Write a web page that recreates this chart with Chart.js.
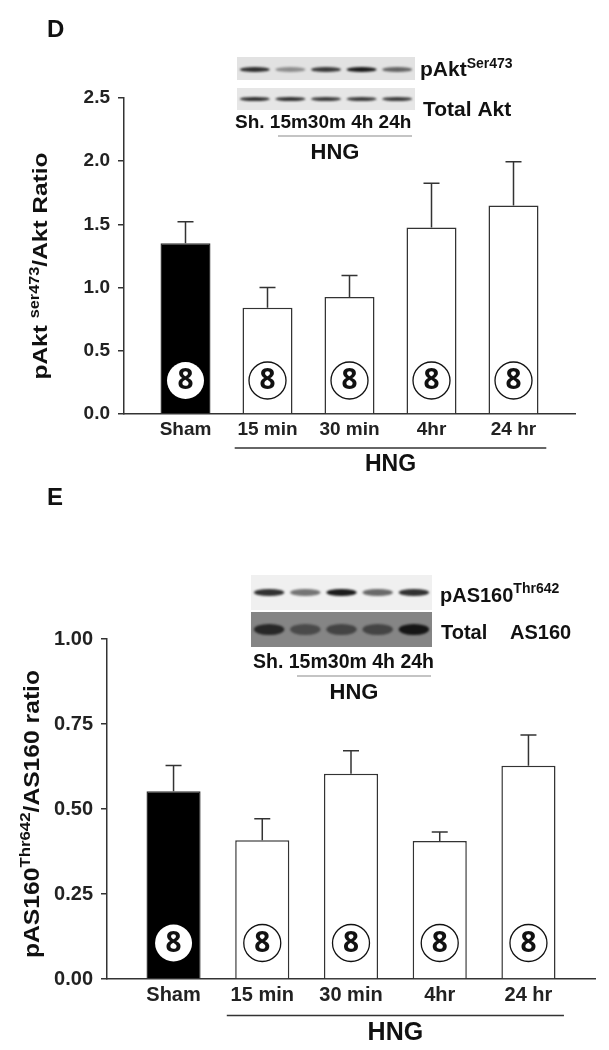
<!DOCTYPE html>
<html>
<head>
<meta charset="utf-8">
<script src="https://cdn.jsdelivr.net/npm/chart.js@4.4.0/dist/chart.umd.min.js"></script>
<style>
  html, body { margin: 0; padding: 0; background: #fff; }
  #wrapD { position: absolute; left: 0; top: 0; width: 609px; height: 480px; }
  #wrapE { position: absolute; left: 0; top: 480px; width: 609px; height: 570px; }
</style>
</head>
<body>
<div id="wrapD"><canvas id="chartD"></canvas></div>
<div id="wrapE"><canvas id="chartE"></canvas></div>
<script>
var groups = ['Sham', '15 min', '30 min', '4hr', '24 hr'];
var nPerGroup = [8, 8, 8, 8, 8];
var barColors = ['#000', '#fff', '#fff', '#fff', '#fff'];

// panel D
var aktRatio = [1.35, 0.84, 0.925, 1.475, 1.65];
var aktSem = [0.17, 0.16, 0.17, 0.35, 0.345];
var aktTicks = [0, 0.5, 1.0, 1.5, 2.0, 2.5];

// panel E
var as160Ratio = [0.552, 0.408, 0.604, 0.406, 0.627];
var as160Sem = [0.076, 0.063, 0.067, 0.026, 0.091];
var as160Ticks = [0, 0.25, 0.5, 0.75, 1.0];

// blot insets (lane labels + rough band darkness)
var blotLanes = 'Sh. 15m30m 4h 24h';
var pAktBands = [0.85, 0.4, 0.8, 0.95, 0.6];
var totAktBands = [0.85, 0.85, 0.8, 0.8, 0.8];
var pAS160Bands = [0.85, 0.55, 0.95, 0.6, 0.85];
var totAS160Bands = [0.8, 0.5, 0.55, 0.55, 0.95];

var FAM = '"Liberation Sans", Arial, sans-serif';

function txt(ctx, s, x, y, size, align, base, color) {
  ctx.font = 'bold ' + size + 'px ' + FAM;
  ctx.textAlign = align || 'left';
  ctx.textBaseline = base || 'alphabetic';
  ctx.fillStyle = color || '#111';
  ctx.fillText(s, x, y);
  return ctx.measureText(s).width;
}

// rotated axis title with a superscript part, stretched to a given length
function rotTitle(ctx, parts, bx, cy, len) {
  ctx.save();
  ctx.translate(bx, cy);
  ctx.rotate(-Math.PI / 2);
  var w = 0;
  parts.forEach(function (p) {
    ctx.font = 'bold ' + p.size + 'px ' + FAM;
    p.w = ctx.measureText(p.t).width;
    w += p.w;
  });
  ctx.scale(len / w, 1);
  var x = -w / 2;
  ctx.fillStyle = '#111';
  ctx.textAlign = 'left';
  ctx.textBaseline = 'alphabetic';
  parts.forEach(function (p) {
    ctx.font = 'bold ' + p.size + 'px ' + FAM;
    ctx.fillText(p.t, x, -p.rise);
    x += p.w;
  });
  ctx.restore();
}

function blot(ctx, x, y, w, h, bg, bands, bh, dy) {
  ctx.fillStyle = bg;
  ctx.fillRect(x, y, w, h);
  var lw = w / bands.length;
  ctx.save();
  ctx.filter = 'blur(1.2px)';
  bands.forEach(function (b, i) {
    ctx.fillStyle = 'rgba(15,15,15,' + b + ')';
    ctx.beginPath();
    ctx.ellipse(x + (i + 0.5) * lw, y + h / 2 + dy, lw * 0.42, bh / 2, 0, 0, Math.PI * 2);
    ctx.fill();
  });
  ctx.restore();
}

function decorPlugin(cfg) {
  return {
    id: 'decor',
    afterDatasetsDraw: function (chart) {
      var ctx = chart.ctx, xs = chart.scales.x, ys = chart.scales.y, area = chart.chartArea;
      ctx.save();
      // error bars (upper only)
      ctx.strokeStyle = '#333';
      ctx.lineWidth = 1.5;
      cfg.values.forEach(function (v, i) {
        var x = xs.getPixelForValue(i);
        var y0 = ys.getPixelForValue(v);
        var y1 = ys.getPixelForValue(v + cfg.sem[i]);
        ctx.beginPath();
        ctx.moveTo(x, y0); ctx.lineTo(x, y1);
        ctx.moveTo(x - 8, y1); ctx.lineTo(x + 8, y1);
        ctx.stroke();
      });
      // n circles
      nPerGroup.forEach(function (n, i) {
        var x = xs.getPixelForValue(i), y = area.bottom - cfg.circleUp;
        ctx.beginPath();
        ctx.arc(x, y, 18.5, 0, Math.PI * 2);
        ctx.fillStyle = '#fff';
        ctx.fill();
        if (i > 0) { ctx.strokeStyle = '#111'; ctx.lineWidth = 1.3; ctx.stroke(); }
        ctx.font = 'bold 28px "Open Sans", sans-serif';
        ctx.textAlign = 'center';
        ctx.textBaseline = 'middle';
        ctx.fillStyle = '#111';
        ctx.fillText(String(n), x, y + 1);
      });
      // HNG bracket under x axis
      ctx.strokeStyle = '#333';
      ctx.lineWidth = 1.5;
      ctx.beginPath();
      ctx.moveTo(xs.getPixelForValue(0.6), area.bottom + cfg.brDown);
      ctx.lineTo(xs.getPixelForValue(4.4), area.bottom + cfg.brDown);
      ctx.stroke();
      txt(ctx, 'HNG', xs.getPixelForValue(2.5), area.bottom + cfg.hngDown, cfg.hngSize, 'center', 'middle');
      ctx.restore();
    },
    afterDraw: function (chart) {
      var ctx = chart.ctx;
      ctx.save();
      txt(ctx, cfg.letter, 47, cfg.letterY, 24);
      rotTitle(ctx, cfg.title, cfg.titleX, cfg.titleY, cfg.titleLen);
      cfg.inset(ctx);
      ctx.restore();
    }
  };
}

function makeChart(id, values, sem, ticks, dec, pad, yWidth, fontSize, cfg) {
  cfg.values = values;
  cfg.sem = sem;
  return new Chart(document.getElementById(id), {
    type: 'bar',
    data: {
      datasets: [{
        data: values.map(function (v, i) { return { x: i, y: v }; }),
        backgroundColor: barColors,
        borderColor: '#333',
        borderWidth: 1.5,
        barPercentage: 0.61,
        categoryPercentage: 1
      }]
    },
    options: {
      responsive: true,
      maintainAspectRatio: false,
      animation: false,
      layout: { padding: pad },
      plugins: { legend: { display: false }, tooltip: { enabled: false } },
      scales: {
        x: {
          type: 'linear',
          offset: false,
          min: -0.75,
          max: 4.75,
          afterBuildTicks: function (s) { s.ticks = groups.map(function (g, i) { return { value: i }; }); },
          afterFit: function (s) { s.height = 40; },
          grid: { display: false, drawTicks: false, offset: false },
          border: { display: true, color: '#333', width: 1.5 },
          ticks: {
            autoSkip: false, maxRotation: 0, padding: 4, color: '#222',
            font: { family: FAM, weight: 'bold', size: fontSize },
            callback: function (v) { return groups[v]; }
          }
        },
        y: {
          min: 0,
          max: ticks[ticks.length - 1],
          afterBuildTicks: function (s) { s.ticks = ticks.map(function (v) { return { value: v }; }); },
          afterFit: function (s) { s.width = yWidth; },
          grid: { display: true, drawOnChartArea: false, drawTicks: true, tickLength: 6, color: '#333', lineWidth: 1.5 },
          border: { display: true, color: '#333', width: 1.5 },
          ticks: {
            padding: 8, color: '#222',
            font: { family: FAM, weight: 'bold', size: fontSize },
            callback: function (v) { return Number(v).toFixed(dec); }
          }
        }
      }
    },
    plugins: [decorPlugin(cfg)]
  });
}

makeChart('chartD', aktRatio, aktSem, aktTicks, 1,
  { left: 0, right: 34, top: 98, bottom: 26 }, 124, 19, {
    letter: 'D', letterY: 37,
    title: [{ t: 'pAkt ', size: 21, rise: 0 }, { t: 'ser473', size: 14, rise: 8 }, { t: '/Akt Ratio', size: 21, rise: 0 }],
    titleX: 47, titleY: 266, titleLen: 227,
    circleUp: 33.5, brDown: 34, hngDown: 51, hngSize: 23,
    inset: function (ctx) {
      blot(ctx, 237, 57, 178, 23, '#e2e2e2', pAktBands, 5, 1);
      blot(ctx, 237, 88, 178, 22, '#e6e6e6', totAktBands, 4, 0);
      var w = txt(ctx, 'pAkt', 420, 76, 21);
      txt(ctx, 'Ser473', 420 + w, 68, 14);
      txt(ctx, 'Total Akt', 423, 116, 21);
      txt(ctx, blotLanes, 235, 128, 19);
      ctx.strokeStyle = '#b0b0b0';
      ctx.lineWidth = 1.5;
      ctx.beginPath(); ctx.moveTo(278, 136); ctx.lineTo(412, 136); ctx.stroke();
      txt(ctx, 'HNG', 335, 153, 22, 'center', 'middle');
    }
  });

makeChart('chartE', as160Ratio, as160Sem, as160Ticks, 2,
  { left: 0, right: 14, top: 159, bottom: 31 }, 107, 20, {
    letter: 'E', letterY: 25,
    title: [{ t: 'pAS160', size: 22, rise: 0 }, { t: 'Thr642', size: 15, rise: 9 }, { t: '/AS160 ratio', size: 22, rise: 0 }],
    titleX: 39, titleY: 334, titleLen: 288,
    circleUp: 36, brDown: 36.4, hngDown: 54, hngSize: 25,
    inset: function (ctx) {
      blot(ctx, 251, 95, 181, 35, '#f0f0f0', pAS160Bands, 7, 0);
      blot(ctx, 251, 132, 181, 35, '#858585', totAS160Bands, 11, 0);
      var w = txt(ctx, 'pAS160', 440, 122, 20);
      txt(ctx, 'Thr642', 440 + w, 113, 14);
      txt(ctx, 'Total', 441, 159, 20);
      txt(ctx, 'AS160', 510, 159, 20);
      txt(ctx, blotLanes, 253, 188, 19.5);
      ctx.strokeStyle = '#b0b0b0';
      ctx.lineWidth = 1.5;
      ctx.beginPath(); ctx.moveTo(297, 196); ctx.lineTo(431, 196); ctx.stroke();
      txt(ctx, 'HNG', 354, 213, 22, 'center', 'middle');
    }
  });
</script>
</body>
</html>
